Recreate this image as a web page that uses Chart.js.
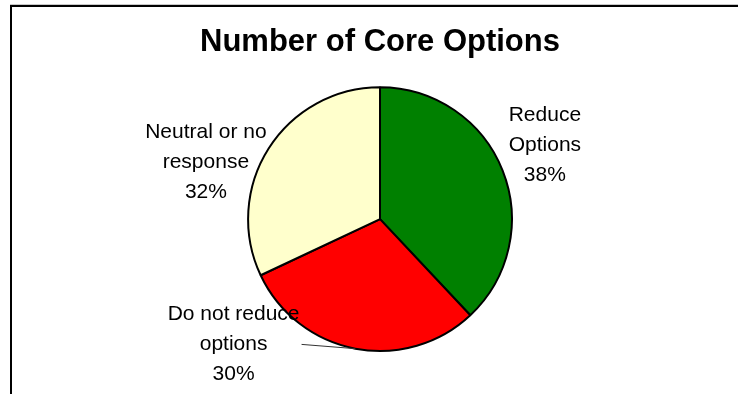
<!DOCTYPE html>
<html>
<head>
<meta charset="utf-8">
<title>Number of Core Options</title>
<script src="https://cdn.jsdelivr.net/npm/chart.js@4/dist/chart.umd.min.js"></script>
<style>
    html, body {
        margin: 0;
        padding: 0;
        background: #fff;
        overflow: hidden;
    }
    #wrap {
        position: relative;
        width: 738px;
        height: 394px;
    }
    /* chart frame, only its top and left edges fall inside the page */
    #frame {
        position: absolute;
        left: 10px;
        top: 5px;
        width: 900px;
        height: 600px;
        border-top: 2px solid #000;
        border-left: 2px solid #000;
        box-shadow: 0 -1px 0 #c8c8c8;
    }
    #coreOptions {
        position: absolute;
        left: 0;
        top: 0;
    }
</style>
</head>
<body>
<div id="wrap">
    <div id="frame"></div>
    <canvas id="coreOptions" width="738" height="394"></canvas>
</div>
<script>
const categories = [
    ['Reduce', 'Options'],
    ['Do not reduce', 'options'],
    ['Neutral or no', 'response']
];
const responses = [38, 30, 32];
const sliceColors = ['#008000', '#ff0000', '#ffffcc'];

// where each label block sits, relative to the pie centre, in radii
const labelOffsets = [[1.25, -0.56], [-1.11, 0.95], [-1.32, -0.43]];
const labelLeaders = [false, true, false];

const labelFont = '21px "Liberation Sans", Arial, sans-serif';
const lineHeight = 30;

const pieLabels = {
    id: 'pieLabels',
    afterDatasetsDraw(chart) {
        const ctx = chart.ctx;
        const meta = chart.getDatasetMeta(0);
        const total = responses.reduce((a, b) => a + b, 0);

        ctx.save();
        ctx.font = labelFont;
        ctx.fillStyle = '#000';
        ctx.textAlign = 'center';
        ctx.textBaseline = 'middle';

        meta.data.forEach((arc, i) => {
            const p = arc.getProps(['x', 'y', 'outerRadius', 'startAngle', 'endAngle'], true);
            const lines = [...categories[i], Math.round(responses[i] / total * 100) + '%'];
            const lx = p.x + labelOffsets[i][0] * p.outerRadius;
            const ly = p.y + labelOffsets[i][1] * p.outerRadius;

            if (labelLeaders[i]) {
                const mid = (p.startAngle + p.endAngle) / 2;
                const w = Math.max(...lines.map(t => ctx.measureText(t).width));
                ctx.beginPath();
                ctx.moveTo(lx + w / 2 + 2, ly);
                ctx.lineTo(p.x + Math.cos(mid) * p.outerRadius, p.y + Math.sin(mid) * p.outerRadius);
                ctx.strokeStyle = '#333';
                ctx.lineWidth = 1;
                ctx.stroke();
            }

            lines.forEach((t, k) => {
                ctx.fillText(t, lx, ly + (k - (lines.length - 1) / 2) * lineHeight);
            });
        });
        ctx.restore();
    }
};

const ctx1 = document.getElementById('coreOptions').getContext('2d');

const pieChart = new Chart(ctx1, {
    type: 'pie',
    data: {
        labels: categories,
        datasets: [{
            data: responses,
            backgroundColor: sliceColors,
            borderColor: '#000',
            borderWidth: 2,
            hoverOffset: 0
        }]
    },
    options: {
        responsive: false,
        animation: false,
        events: [],
        layout: {
            padding: {
                top: 0,
                bottom: 42,
                left: 100,
                right: 78
            }
        },
        plugins: {
            legend: { display: false },
            tooltip: { enabled: false },
            title: {
                display: true,
                text: 'Number of Core Options',
                color: '#000',
                font: {
                    family: '"Liberation Sans", Arial, sans-serif',
                    size: 31,
                    weight: 'bold'
                },
                padding: { top: 24, bottom: 25 }
            }
        }
    },
    plugins: [pieLabels]
});
</script>
</body>
</html>
